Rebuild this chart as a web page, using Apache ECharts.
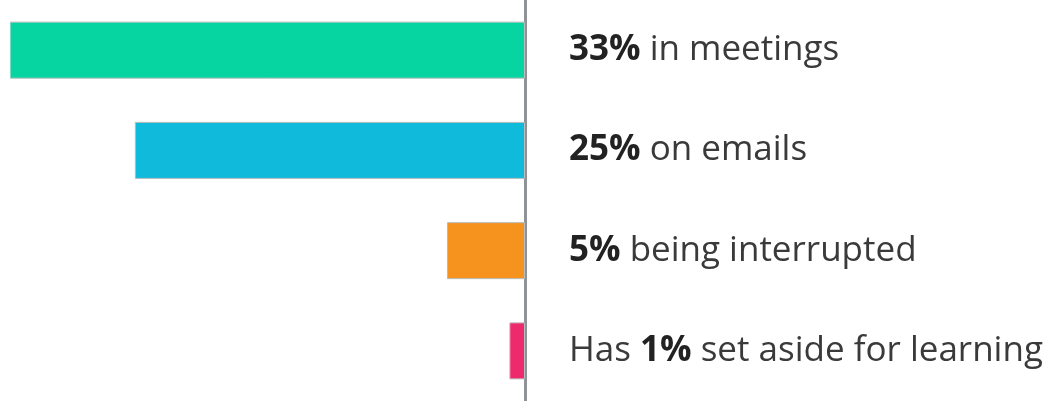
<!DOCTYPE html>
<html><head><meta charset="utf-8">
<script src="https://cdn.jsdelivr.net/npm/echarts@6/dist/echarts.min.js"></script>
<style>html,body{margin:0;padding:0;background:#fff}#c{width:1044px;height:401px}</style>
</head><body><div id="c"></div>
<script>
var categories = ['meetings', 'emails', 'interrupted', 'learning'];
var values = [33, 25, 5, 1];
var prefixes = ['', '', '', 'Has '];
var pctLabels = ['33%', '25%', '5%', '1%'];
var suffixes = [' in meetings', ' on emails', ' being interrupted', ' set aside for learning'];
var colors = ['#06D4A1', '#10BADB', '#F6921E', '#EC2A6C'];

var chart = echarts.init(document.getElementById('c'));
chart.setOption({
  animation: false,
  grid: {left: 10, right: 519, top: 0, bottom: 0, containLabel: false, outerBoundsMode: 'none'},
  xAxis: {type: 'value', inverse: true, min: 0, max: 33, show: false},
  yAxis: {
    type: 'category', data: categories, inverse: true, position: 'right',
    axisLine: {lineStyle: {color: '#8E9399', width: 3}},
    axisTick: {show: false},
    axisLabel: {
      margin: 44,
      formatter: function (v, i) {
        return (prefixes[i] ? '{r|' + prefixes[i] + '}' : '') + '{b|' + pctLabels[i] + '}{r|' + suffixes[i] + '}';
      },
      rich: {
        b: {fontFamily: 'Open Sans', fontWeight: 'bold', fontSize: 35, color: '#222'},
        r: {fontFamily: 'Open Sans', fontSize: 35, color: '#3a3a3a'}
      }
    }
  },
  series: [{
    type: 'bar', barWidth: 57,
    data: values.map(function (v, i) {
      return {value: v, itemStyle: {color: colors[i], borderColor: '#b8bcbc', borderWidth: 1}};
    })
  }]
});
</script></body></html>
